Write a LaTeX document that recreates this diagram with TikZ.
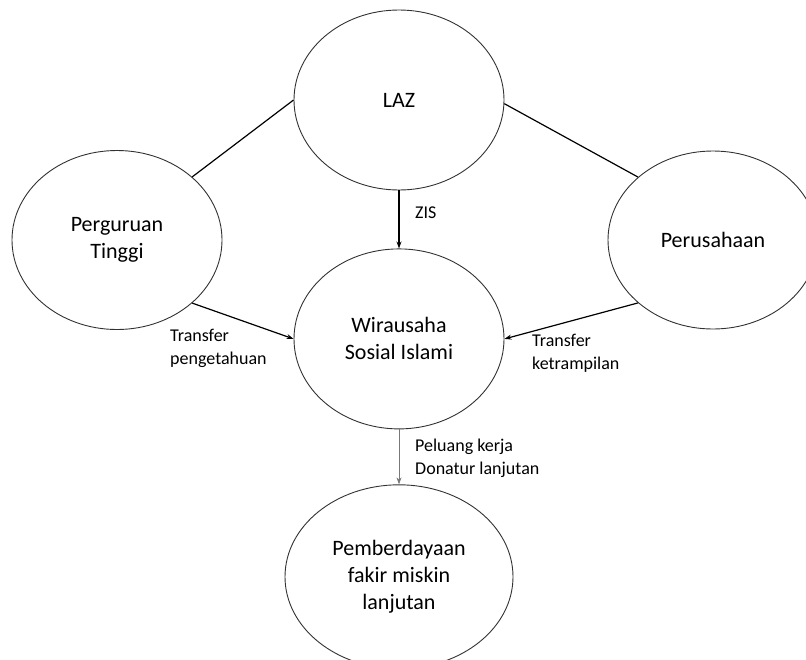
\documentclass[tikz,border=0pt]{standalone}
\usepackage{fontspec}
\setmainfont{Carlito}
\usetikzlibrary{shapes.geometric, arrows.meta, positioning}
\definecolor{rimgray}{RGB}{50,50,50}
\definecolor{softgray}{RGB}{120,120,120}

\begin{document}
\begin{tikzpicture}[
    x=1pt, y=-1pt,
    bubble/.style={ellipse, draw=rimgray, line width=0.9pt, inner sep=0pt, minimum width=#1, minimum height=180pt, align=center, font=\fontsize{22}{27}\selectfont},
    bubble/.default=210pt,
    arrow/.style={-{Stealth[length=7pt, width=5pt]}, line width=1.2pt},
    link/.style={line width=1.2pt},
    note/.style={font=\fontsize{18}{23}\selectfont, align=left, anchor=west, inner sep=0pt}
]
\useasboundingbox (0,0) rectangle (806,659);

% Ellipses
\node[bubble] (laz) at (399,100) {LAZ};
\node[bubble, minimum height=179pt] (pt) at (117,240) {Perguruan\\Tinggi};
\node[bubble, minimum height=178pt] (prs) at (713,240) {Perusahaan};
\node[bubble, below=58pt of laz] (wsi) {Wirausaha\\Sosial Islami};
\node[bubble=228pt, minimum height=184pt, below=55pt of wsi] (pfm) {Pemberdayaan\\fakir miskin\\lanjutan};

% Lines from LAZ
\draw[link] (laz.180) -- (pt.40);
\draw[link] (laz.358) -- (prs.140);
\draw[arrow] (laz.south) -- (wsi.north);

% Transfers
\draw[arrow] (pt.320) -- (wsi.180);
\draw[arrow] (prs.220) -- (wsi.0);

% Outcome
\draw[-{Stealth[length=7pt, width=5pt]}, draw=softgray, line width=0.7pt] (wsi.south) -- (pfm.north);

% Labels
\node[note] (zis) at (415,213) {ZIS};
\node[note] (tp) at (170,348) {Transfer\\pengetahuan};
\node[note] (tk) at (532,353) {Transfer\\ketrampilan};
\node[note] (pk) at (415,458) {Peluang kerja\\Donatur lanjutan};

\end{tikzpicture}
\end{document}
